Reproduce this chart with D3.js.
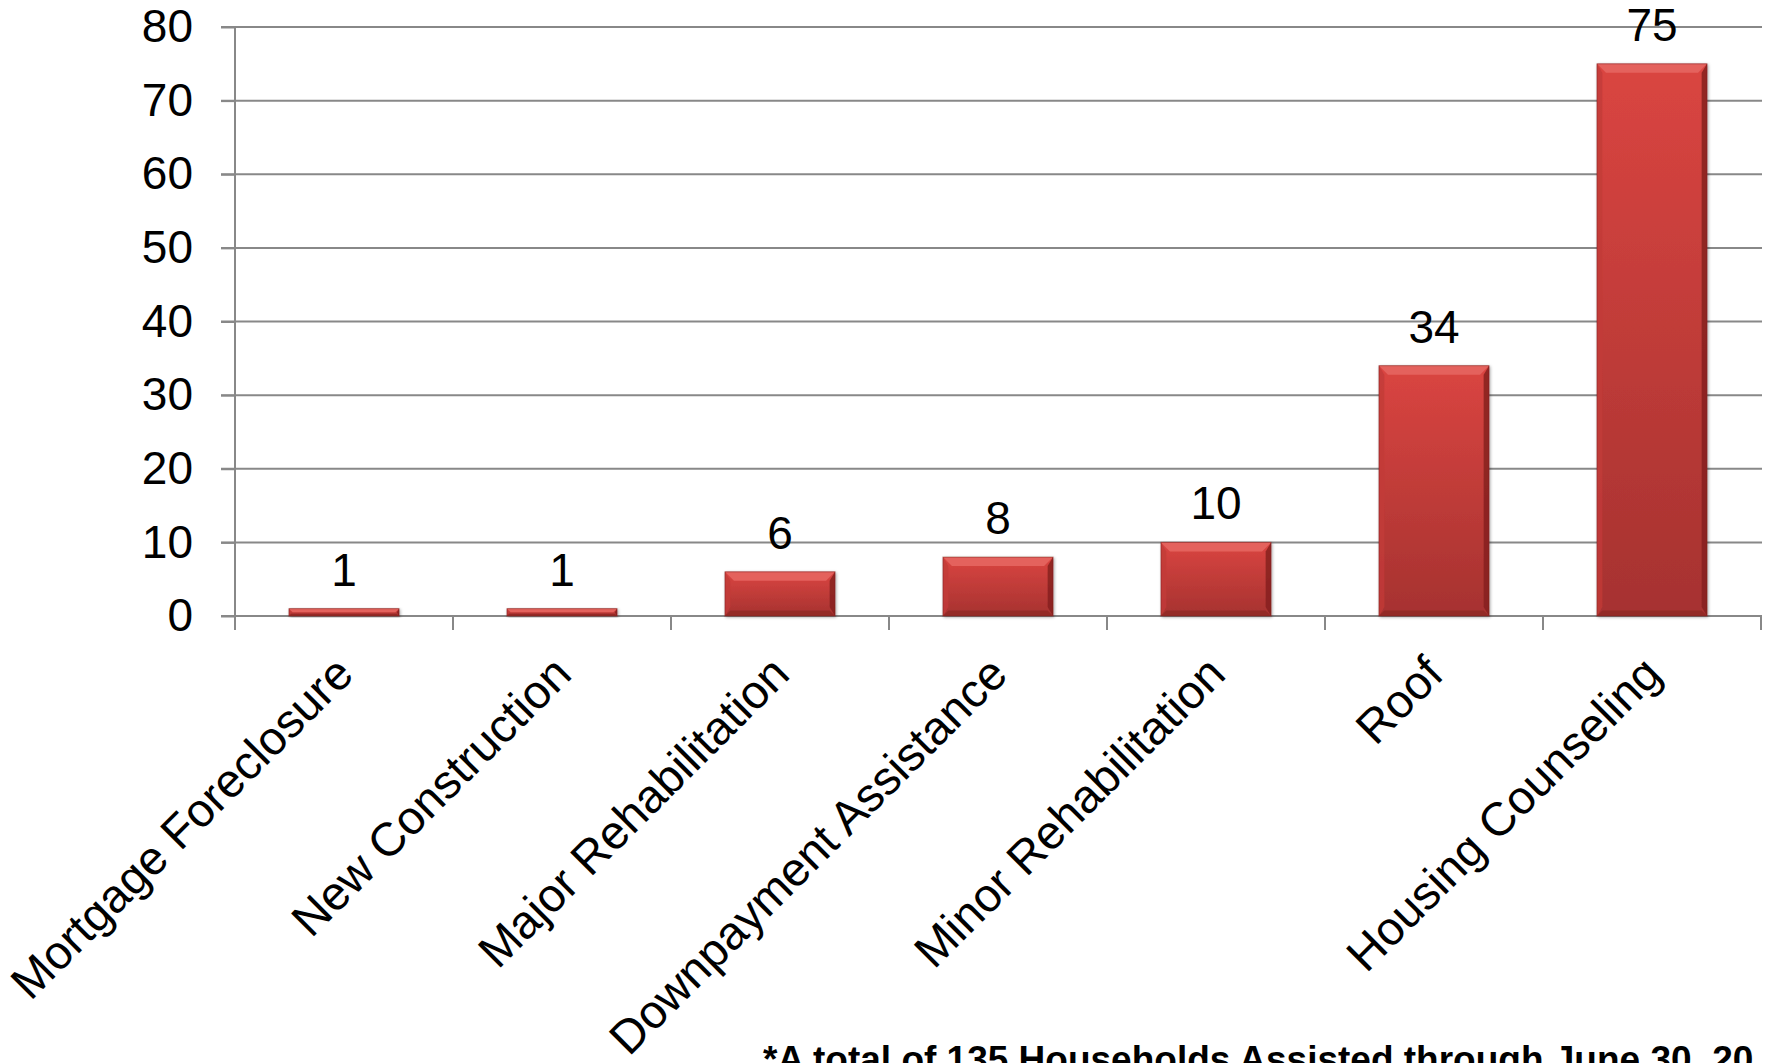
<!DOCTYPE html>
<html>
<head>
<meta charset="utf-8">
<script src="https://cdn.jsdelivr.net/npm/d3@7"></script>
<style>
  body { margin: 0; background: #fff; }
  svg { display: block; font-family: "Liberation Sans", Arial, sans-serif; }
</style>
</head>
<body>
<div id="chart"></div>
<script>
// chart data
var categories = ["Mortgage Foreclosure", "New Construction", "Major Rehabilitation",
  "Downpayment Assistance", "Minor Rehabilitation", "Roof", "Housing Counseling"];
var values = [1, 1, 6, 8, 10, 34, 75];
var yTicks = [0, 10, 20, 30, 40, 50, 60, 70, 80];
var footnote = "*A total of 135 Households Assisted through June 30, 20";

var width = 1766;
var height = 1063;

// plot area (plotTop, not "top" -- that one is window.top)
var plotLeft = 235, plotRight = 1761, plotTop = 27, plotBottom = 616;
var tickLen = 14;

var svg = d3.select("#chart")
  .append("svg")
  .attr("width", width)
  .attr("height", height);

var defs = svg.append("defs");

// face gradient of the bars
var grad = defs.append("linearGradient")
  .attr("id", "barFace")
  .attr("x1", 0).attr("y1", 0).attr("x2", 0).attr("y2", 1);
grad.append("stop").attr("offset", "0%").attr("stop-color", "#da4541");
grad.append("stop").attr("offset", "100%").attr("stop-color", "#a63230");

var shadow = defs.append("filter")
  .attr("id", "shadow")
  .attr("x", "-10%").attr("y", "-10%").attr("width", "130%").attr("height", "130%");
shadow.append("feDropShadow")
  .attr("dx", 1).attr("dy", 1)
  .attr("stdDeviation", 1.5)
  .attr("flood-color", "#000")
  .attr("flood-opacity", 0.35);

var xScale = d3.scaleBand()
  .domain(categories)
  .range([plotLeft, plotRight])
  .paddingInner(0.495)
  .paddingOuter(0.2475);

var yScale = d3.scaleLinear()
  .domain([0, 80])
  .range([plotBottom, plotTop]);

// horizontal gridlines
svg.append("g")
  .selectAll("line")
  .data(yTicks)
  .enter()
  .append("line")
  .attr("x1", plotLeft - tickLen)
  .attr("x2", plotRight + 1)
  .attr("y1", function(d) { return yScale(d); })
  .attr("y2", function(d) { return yScale(d); })
  .attr("stroke", "#888")
  .attr("stroke-width", 2);

// y axis
var yAxis = d3.axisLeft(yScale)
  .tickValues(yTicks)
  .tickSize(tickLen)
  .tickPadding(28);

var yG = svg.append("g")
  .attr("transform", "translate(" + plotLeft + ",0)")
  .call(yAxis);
yG.select(".domain").remove();
yG.selectAll(".tick line").attr("stroke", "#888").attr("stroke-width", 2);
yG.selectAll(".tick text")
  .attr("font-size", 46)
  .attr("font-family", "Liberation Sans, Arial, sans-serif")
  .attr("fill", "#000");

// vertical axis line
svg.append("line")
  .attr("x1", plotLeft).attr("x2", plotLeft)
  .attr("y1", plotTop).attr("y2", plotBottom + tickLen)
  .attr("stroke", "#888")
  .attr("stroke-width", 2);

// category boundary ticks on x axis
var step = xScale.step();
var bounds = d3.range(categories.length + 1).map(function(i) {
  return plotLeft + i * step;
});
svg.append("g")
  .selectAll("line")
  .data(bounds)
  .enter()
  .append("line")
  .attr("x1", function(d) { return d; })
  .attr("x2", function(d) { return d; })
  .attr("y1", plotBottom)
  .attr("y2", plotBottom + tickLen)
  .attr("stroke", "#888")
  .attr("stroke-width", 2);

// bars with bevelled edges
var barG = svg.append("g")
  .selectAll("g")
  .data(values)
  .enter()
  .append("g")
  .attr("filter", "url(#shadow)");

function pts(a) {
  return a.map(function(p) { return p.join(","); }).join(" ");
}

barG.each(function(d, i) {
  var g = d3.select(this);
  var x0 = xScale(categories[i]);
  var x1 = x0 + xScale.bandwidth();
  var y0 = yScale(d);
  var y1 = yScale(0);
  var b = Math.min(9, (y1 - y0) / 2);

  g.append("rect")
    .attr("x", x0).attr("y", y0)
    .attr("width", x1 - x0).attr("height", y1 - y0)
    .attr("fill", "url(#barFace)");

  // top bevel
  g.append("polygon")
    .attr("points", pts([[x0, y0], [x1, y0], [x1 - b, y0 + b], [x0 + b, y0 + b]]))
    .attr("fill", "#e4625d");
  // left bevel
  g.append("polygon")
    .attr("points", pts([[x0, y0], [x0 + b * 0.6, y0 + b], [x0 + b * 0.6, y1 - b], [x0, y1]]))
    .attr("fill", "#c23b38")
    .attr("opacity", 0.8);
  // right bevel
  g.append("polygon")
    .attr("points", pts([[x1, y0], [x1, y1], [x1 - b * 0.6, y1 - b], [x1 - b * 0.6, y0 + b]]))
    .attr("fill", "#86211f")
    .attr("opacity", 0.85);
  // bottom bevel
  g.append("polygon")
    .attr("points", pts([[x0, y1], [x1, y1], [x1 - b * 0.6, y1 - b * 0.6], [x0 + b * 0.6, y1 - b * 0.6]]))
    .attr("fill", "#8f2725")
    .attr("opacity", 0.8);
  // thin outline
  g.append("rect")
    .attr("x", x0).attr("y", y0)
    .attr("width", x1 - x0).attr("height", y1 - y0)
    .attr("fill", "none")
    .attr("stroke", "#7a1d1b")
    .attr("stroke-opacity", 0.5)
    .attr("stroke-width", 1);
});

// value labels
svg.append("g")
  .selectAll("text")
  .data(values)
  .enter()
  .append("text")
  .attr("x", function(d, i) { return xScale(categories[i]) + xScale.bandwidth() / 2; })
  .attr("y", function(d) { return yScale(d) - 23; })
  .attr("text-anchor", "middle")
  .attr("font-size", 46)
  .attr("fill", "#000")
  .text(function(d) { return d; });

// rotated category labels
svg.append("g")
  .selectAll("text")
  .data(categories)
  .enter()
  .append("text")
  .attr("transform", function(d) {
    return "translate(" + (xScale(d) + xScale.bandwidth() / 2) + "," + (plotBottom + 49) + ") rotate(-45)";
  })
  .attr("text-anchor", "end")
  .attr("dy", "0.35em")
  .attr("font-size", 47)
  .attr("fill", "#000")
  .text(function(d) { return d; });

// footnote
svg.append("text")
  .attr("x", 763)
  .attr("y", 1072)
  .attr("font-size", 37)
  .attr("font-weight", "bold")
  .attr("fill", "#000")
  .text(footnote);
</script>
</body>
</html>
